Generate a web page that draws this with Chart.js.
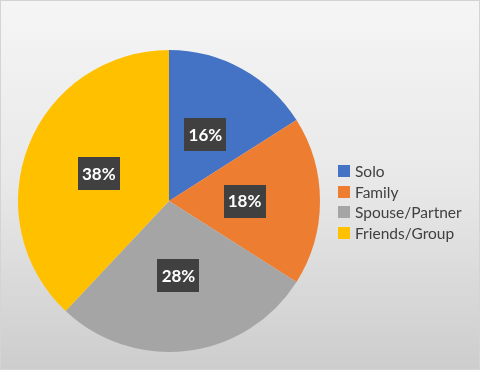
<!DOCTYPE html>
<html>
<head>
<meta charset="utf-8">
<script src="https://cdn.jsdelivr.net/npm/chart.js@4"></script>
<style>
  html, body { margin: 0; padding: 0; }
  #wrap {
    position: relative;
    width: 478px;
    height: 368px;
    border: 1px solid #d4d4d4;
    background: linear-gradient(to bottom, #f5f5f5 0%, #e8e8e8 50%, #cdcdcd 100%);
  }
  canvas { position: absolute; left: -1px; top: -1px; }
</style>
</head>
<body>
<div id="wrap"><canvas id="chart" width="480" height="370"></canvas></div>
<script>
const categories = ["Solo", "Family", "Spouse/Partner", "Friends/Group"];
const shares = [16, 18, 28, 38];
const colors = ["#4472C4", "#ED7D31", "#A5A5A5", "#FFC000"];

const ctx = document.getElementById("chart").getContext("2d");

// dark boxes with white percent text in each slice
const sliceLabels = {
  id: "sliceLabels",
  afterDatasetsDraw(chart) {
    const c = chart.ctx;
    const meta = chart.getDatasetMeta(0);
    c.save();
    c.font = "bold 17px Lato";
    c.textAlign = "center";
    c.textBaseline = "middle";
    meta.data.forEach((arc, i) => {
      const p = arc.tooltipPosition();
      const text = shares[i] + "%";
      const w = 42;
      const h = 33;
      c.fillStyle = "#404040";
      c.fillRect(Math.round(p.x - w / 2), Math.round(p.y - h / 2), w, h);
      c.fillStyle = "#ffffff";
      c.fillText(text, p.x, p.y + 1);
    });
    c.restore();
  }
};

// legend on the right, drawn from the chart data
const sideLegend = {
  id: "sideLegend",
  afterDraw(chart) {
    const c = chart.ctx;
    const labels = chart.data.labels;
    const bg = chart.data.datasets[0].backgroundColor;
    c.save();
    c.font = "15.5px Lato";
    c.textBaseline = "middle";
    c.textAlign = "left";
    labels.forEach((label, i) => {
      const y = 171 + i * 20.7;
      c.fillStyle = bg[i];
      c.fillRect(338, Math.round(y - 6), 12, 12);
      c.fillStyle = "#404040";
      c.fillText(label, 355, y + 1);
    });
    c.restore();
  }
};

new Chart(ctx, {
  type: "pie",
  data: {
    labels: categories,
    datasets: [{
      data: shares,
      backgroundColor: colors,
      borderWidth: 0
    }]
  },
  options: {
    responsive: false,
    animation: false,
    layout: { padding: { left: 18, top: 50, right: 160, bottom: 18 } },
    plugins: {
      legend: { display: false },
      tooltip: { enabled: false }
    }
  },
  plugins: [sliceLabels, sideLegend]
});
</script>
</body>
</html>
